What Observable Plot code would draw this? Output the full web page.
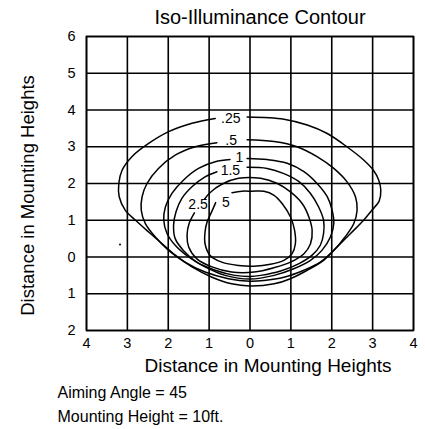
<!DOCTYPE html>
<html>
<head>
<meta charset="utf-8">
<script src="https://cdn.jsdelivr.net/npm/d3@7"></script>
<script src="https://cdn.jsdelivr.net/npm/@observablehq/plot@0.6"></script>
<style>
  html, body { margin: 0; padding: 0; background: #fff; }
  #chart svg { display: block; }
</style>
</head>
<body>
<div id="chart"></div>
<script>
// Tick values (labels shown as absolute distances)
const xTicks = [-4, -3, -2, -1, 0, 1, 2, 3, 4];
const yTicks = [-2, -1, 0, 1, 2, 3, 4, 5, 6];

// Contour levels and their label positions
const levels = [".25", ".5", "1", "1.5", "2.5", "5"];
const labelX = [-0.47, -0.46, -0.26, -0.48, -1.27, -0.59];
const labelY = [3.76, 3.18, 2.72, 2.35, 1.42, 1.49];

// Contour traces [x, y] in mounting heights (gap left at each label)
const c025 = [[-0.07,3.81],[0.83,3.75],[1.40,3.59],[1.89,3.36],[2.37,3.0],[2.78,2.64],[3.02,2.36],[3.15,2.09],[3.20,1.82],[3.16,1.52],[2.98,1.27],[2.78,1.0],[2.46,0.64],[2.13,0.27],[1.80,-0.09],[1.40,-0.36],[0.99,-0.59],[0.59,-0.73],[0.0,-0.79],[-0.45,-0.73],[-0.93,-0.55],[-1.42,-0.27],[-1.83,0.05],[-2.15,0.36],[-2.48,0.68],[-2.80,1.0],[-3.05,1.27],[-3.20,1.64],[-3.21,2.0],[-3.13,2.36],[-2.89,2.73],[-2.48,3.09],[-1.99,3.41],[-1.42,3.64],[-0.85,3.77]];
const c05 = [[-0.07,3.19],[0.59,3.14],[1.15,3.0],[1.64,2.73],[2.05,2.41],[2.37,2.05],[2.58,1.64],[2.62,1.27],[2.54,0.91],[2.33,0.55],[2.05,0.18],[1.72,-0.14],[1.32,-0.36],[0.83,-0.55],[0.34,-0.64],[0.0,-0.66],[-0.53,-0.59],[-1.10,-0.41],[-1.59,-0.14],[-1.99,0.18],[-2.32,0.55],[-2.56,0.91],[-2.66,1.27],[-2.64,1.64],[-2.52,2.0],[-2.24,2.41],[-1.83,2.77],[-1.34,3.0],[-0.81,3.11]];
const c1 = [[-0.07,2.68],[0.42,2.65],[0.91,2.55],[1.32,2.32],[1.64,2.0],[1.89,1.64],[2.01,1.27],[2.05,0.91],[1.97,0.55],[1.76,0.18],[1.48,-0.09],[1.07,-0.32],[0.59,-0.5],[0.0,-0.6],[-0.61,-0.5],[-1.10,-0.27],[-1.50,0.0],[-1.83,0.32],[-2.03,0.64],[-2.11,1.0],[-2.07,1.36],[-1.91,1.73],[-1.63,2.09],[-1.26,2.41],[-0.85,2.59],[-0.49,2.65]];
const c15 = [[-0.07,2.44],[0.42,2.41],[0.83,2.27],[1.20,2.05],[1.48,1.73],[1.68,1.36],[1.80,1.0],[1.80,0.64],[1.72,0.32],[1.52,0.05],[1.20,-0.18],[0.75,-0.38],[0.26,-0.5],[0.0,-0.53],[-0.37,-0.5],[-0.85,-0.36],[-1.30,-0.14],[-1.63,0.18],[-1.83,0.5],[-1.87,0.86],[-1.81,1.23],[-1.67,1.59],[-1.42,1.91],[-1.10,2.18],[-0.81,2.32]];
const c25 = [[-1.11,1.58],[-0.98,1.75],[-0.69,1.98],[-0.28,2.14],[0.26,2.14],[0.67,2.0],[0.99,1.77],[1.28,1.45],[1.44,1.09],[1.52,0.73],[1.48,0.36],[1.32,0.09],[0.99,-0.14],[0.59,-0.29],[0.10,-0.41],[-0.45,-0.41],[-0.93,-0.27],[-1.30,-0.05],[-1.50,0.27],[-1.54,0.59],[-1.49,0.91],[-1.36,1.2]];
const c5 = [[-0.44,1.75],[-0.2,1.79],[0.04,1.79],[0.34,1.79],[0.59,1.68],[0.79,1.45],[0.99,1.09],[1.09,0.73],[1.11,0.36],[1.03,0.09],[0.83,-0.09],[0.5,-0.2],[0.1,-0.25],[-0.28,-0.23],[-0.69,-0.14],[-0.98,0.05],[-1.10,0.36],[-1.10,0.68],[-1.05,0.95],[-0.95,1.2],[-0.84,1.48]];

// Stray dot in the original
const dotX = [-3.18];
const dotY = [0.34];

const contours = [c025, c05, c1, c15, c25, c5];
const lineData = contours.flatMap((c, i) => c.map(([x, y]) => ({x, y, level: levels[i]})));
const labelData = levels.map((t, i) => ({t, x: labelX[i], y: labelY[i]}));
const dotData = dotX.map((x, i) => ({x, y: dotY[i]}));

const FONT = "'Liberation Sans', Arial, Helvetica, sans-serif";
const abs = d => String(Math.abs(d));

const chart = Plot.plot({
  width: 425,
  height: 429,
  marginLeft: 86,
  marginRight: 12,
  marginTop: 36,
  marginBottom: 99,
  style: {fontFamily: FONT, fontSize: "14px", color: "#000", background: "#fff", overflow: "visible"},
  x: {domain: [-4, 4], axis: null},
  y: {domain: [-2, 6], axis: null},
  marks: [
    Plot.gridX(xTicks, {stroke: "#000", strokeOpacity: 1, strokeWidth: 1.6}),
    Plot.gridY(yTicks, {stroke: "#000", strokeOpacity: 1, strokeWidth: 1.6}),
    Plot.frame({stroke: "#000", strokeWidth: 1.6}),
    // Tick labels
    Plot.text(xTicks, {x: d => d, frameAnchor: "bottom", text: abs, textAnchor: "middle", lineAnchor: "middle", dy: 13, fontSize: 14.5, fill: "#000"}),
    Plot.text(yTicks, {y: d => d, frameAnchor: "left", text: abs, textAnchor: "end", lineAnchor: "middle", dx: -11, fontSize: 14.5, fill: "#000"}),
    Plot.line(lineData, {x: "x", y: "y", z: "level", stroke: "#000", strokeWidth: 1.5, curve: "catmull-rom"}),
    Plot.text(labelData, {x: "x", y: "y", text: "t", fontSize: 14, fill: "#000"}),
    Plot.dot(dotData, {x: "x", y: "y", r: 1, fill: "#000", stroke: null}),
    // Title
    Plot.text(["Iso-Illuminance Contour"], {frameAnchor: "top", text: d => d, textAnchor: "middle", lineAnchor: "middle", dx: 10, dy: -19, fontSize: 20, fill: "#000"}),
    // X axis title
    Plot.text(["Distance in Mounting Heights"], {frameAnchor: "bottom", text: d => d, textAnchor: "middle", lineAnchor: "middle", dx: 18, dy: 35, fontSize: 19, fill: "#000"}),
    // Y axis title
    Plot.text(["Distance in Mounting Heights"], {frameAnchor: "left", text: d => d, textAnchor: "middle", lineAnchor: "middle", rotate: -90, dx: -58, dy: 12, fontSize: 18.5, fill: "#000"}),
    // Notes
    Plot.text(["Aiming Angle = 45"], {frameAnchor: "bottom-left", text: d => d, textAnchor: "start", lineAnchor: "middle", dx: -29, dy: 62, fontSize: 16, fill: "#000"}),
    Plot.text(["Mounting Height = 10ft."], {frameAnchor: "bottom-left", text: d => d, textAnchor: "start", lineAnchor: "middle", dx: -29, dy: 86, fontSize: 16, fill: "#000"})
  ]
});
document.getElementById("chart").appendChild(chart);
</script>
</body>
</html>
